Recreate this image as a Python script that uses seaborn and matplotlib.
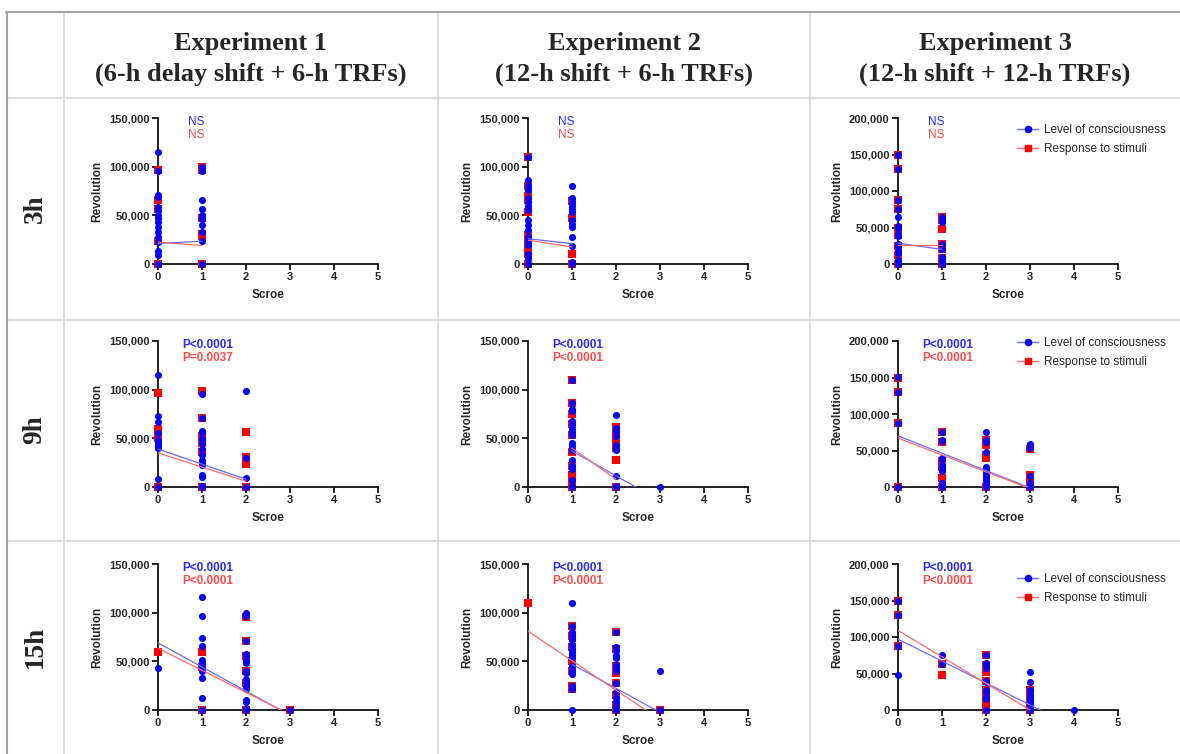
#plot revolution vs score for the three experiments
import matplotlib.pyplot as plt
from matplotlib.lines import Line2D
from matplotlib.ticker import FuncFormatter
import numpy as np
import pandas as pd
import seaborn as sns

times = ['3h', '9h', '15h']
experiments = ['Experiment 1\n(6-h delay shift + 6-h TRFs)',
               'Experiment 2\n(12-h shift + 6-h TRFs)',
               'Experiment 3\n(12-h shift + 12-h TRFs)']
ymax = [150000, 150000, 200000]

# revolution values (x1000) per score, level of consciousness (loc) / response to stimuli (res)
loc_3h_e1 = {0: [115, 96, 71, 69, 59, 55, 50, 47, 43, 38, 33, 28, 23, 13, 9, 0],
             1: [100, 96, 66, 57, 50, 48, 46, 40, 33, 24, 0]}
res_3h_e1 = {0: [97, 66, 56, 24, 0], 1: [100, 97, 47, 31, 29, 0]}
loc_3h_e2 = {0: [110, 86, 80, 76, 68, 64, 60, 55, 45, 40, 35, 28, 24, 20, 10, 6, 0],
             1: [80, 68, 64, 60, 57, 53, 45, 41, 38, 28, 18, 2, 0]}
res_3h_e2 = {0: [110, 80, 70, 66, 53, 30, 24, 18, 10, 0], 1: [65, 47, 10, 0]}
loc_3h_e3 = {0: [150, 130, 87, 75, 64, 52, 50, 41, 38, 28, 25, 18, 15, 5, 2, 0],
             1: [65, 62, 58, 28, 20, 9, 5, 2, 0]}
res_3h_e3 = {0: [150, 130, 87, 75, 50, 40, 25, 12, 0], 1: [65, 60, 48, 28, 20, 8, 0]}

loc_9h_e1 = {0: [115, 73, 67, 55, 48, 45, 42, 40, 8, 0],
             1: [96, 71, 58, 56, 50, 48, 45, 39, 33, 28, 25, 23, 12, 10, 1, 0],
             2: [99, 30, 9, 0]}
res_9h_e1 = {0: [97, 60, 57, 50, 0], 1: [99, 71, 52, 45, 36, 0], 2: [57, 31, 24, 0]}
loc_9h_e2 = {1: [110, 86, 80, 78, 68, 64, 60, 56, 53, 45, 42, 38, 28, 22, 18, 7, 1, 0],
             2: [74, 61, 58, 52, 43, 41, 38, 11, 1, 0], 3: [0]}
res_9h_e2 = {1: [110, 86, 75, 65, 53, 36, 22, 12, 8, 0], 2: [62, 53, 46, 40, 28, 0]}
loc_9h_e3 = {0: [151, 130, 87, 0], 1: [75, 65, 63, 40, 38, 30, 27, 24, 22, 5, 1, 0],
             2: [76, 64, 62, 48, 28, 24, 20, 16, 12, 8, 4, 0], 3: [59, 54, 15, 6, 3, 0]}
res_9h_e3 = {0: [150, 130, 87, 0], 1: [76, 62, 36, 28, 13, 0], 2: [64, 58, 44, 40, 0],
             3: [52, 16, 6, 0]}

loc_15h_e1 = {0: [43], 1: [116, 97, 74, 66, 51, 48, 44, 40, 33, 12, 0],
              2: [100, 97, 71, 58, 55, 50, 48, 40, 38, 32, 28, 24, 22, 10, 8, 1, 0], 3: [0]}
res_15h_e1 = {0: [60], 1: [60, 44, 0], 2: [96, 71, 55, 40, 28, 0], 3: [0]}
loc_15h_e2 = {1: [110, 86, 80, 76, 72, 67, 63, 60, 57, 53, 45, 40, 37, 25, 22, 0],
              2: [80, 65, 62, 56, 53, 46, 43, 40, 28, 19, 12, 8, 3, 0], 3: [40, 0]}
res_15h_e2 = {0: [110], 1: [86, 76, 65, 50, 40, 25, 22], 2: [80, 63, 45, 38, 28, 15, 5, 0],
              3: [0]}
loc_15h_e3 = {0: [150, 130, 87, 48], 1: [75, 63],
              2: [75, 65, 62, 58, 40, 38, 28, 25, 18, 15, 0],
              3: [52, 38, 28, 22, 18, 15, 12, 9, 6, 3, 0], 4: [0]}
res_15h_e3 = {0: [150, 130, 87], 1: [63, 48], 2: [76, 62, 52, 40, 28, 16, 12, 9, 0],
              3: [28, 22, 16, 10, 5, 0]}

loc_data = [[loc_3h_e1, loc_3h_e2, loc_3h_e3],
            [loc_9h_e1, loc_9h_e2, loc_9h_e3],
            [loc_15h_e1, loc_15h_e2, loc_15h_e3]]
res_data = [[res_3h_e1, res_3h_e2, res_3h_e3],
            [res_9h_e1, res_9h_e2, res_9h_e3],
            [res_15h_e1, res_15h_e2, res_15h_e3]]

# linear fits: (intercept x1000, slope x1000, x from, x to)
fit_loc = [[(21, 2.5, 0, 1), (26, -5, 0, 1), (28.5, -8.5, 0, 1)],
           [(39, -15.5, 0, 2), (62.5, -25.5, 1, 3), (70, -23.7, 0, 3)],
           [(69, -24.8, 0, 3), (71.7, -24.7, 1, 3), (97, -30, 0, 4)]]
fit_res = [[(22.5, -3.5, 0, 1), (24.5, -7, 0, 1), (26, 0, 0, 1)],
           [(35, -14.5, 0, 2), (72, -32, 1, 2), (67, -23.1, 0, 3)],
           [(63.5, -22.7, 0, 3), (81, -30.3, 0, 3), (109, -36.3, 0, 3)]]

p_loc = [['NS', 'NS', 'NS'],
         ['P<0.0001', 'P<0.0001', 'P<0.0001'],
         ['P<0.0001', 'P<0.0001', 'P<0.0001']]
p_res = [['NS', 'NS', 'NS'],
         ['P=0.0037', 'P<0.0001', 'P<0.0001'],
         ['P<0.0001', 'P<0.0001', 'P<0.0001']]

blue, red = '#0000ff', '#ff0000'
blue_line, red_line = '#6b6bff', '#ff6b6b'
blue_txt, red_txt = '#2a2aff', '#ff4c4c'

sns.set_theme(style='ticks')
plt.rcParams['font.family'] = ['Liberation Sans', 'DejaVu Sans']

rows = []
for i, t in enumerate(times):
    for j in range(3):
        for name, d in [('Level of consciousness', loc_data[i][j]),
                        ('Response to stimuli', res_data[i][j])]:
            for s, vals in d.items():
                for v in vals:
                    rows.append((t, j, name, s, v * 1000))
df = pd.DataFrame(rows, columns=['time', 'exp', 'series', 'score', 'rev'])

W, H = 1180, 754
fig = plt.figure(figsize=(W / 100, H / 100), dpi=100)

# table grid
def hline(y, x0, x1, c, lw=1.5):
    fig.add_artist(Line2D([x0 / W, x1 / W], [1 - y / H, 1 - y / H], color=c, lw=lw))

def vline(x, y0, y1, c, lw=1.5):
    fig.add_artist(Line2D([x / W, x / W], [1 - y0 / H, 1 - y1 / H], color=c, lw=lw))

light, dark = '#dedede', '#a3a3a3'
for y in [98, 320, 541]:
    hline(y, 7, W, light)
for x in [64, 438, 810]:
    vline(x, 12, H, light)
hline(12, 6, W, dark)
vline(7, 12, H, dark)

col_center = [251, 624, 995]
row_center = [209, 430, 647]
for j, e in enumerate(experiments):
    fig.text(col_center[j] / W, 1 - 59 / H, e, ha='center', va='center',
             fontsize=19, fontweight='bold', family='Liberation Serif', linespacing=1.4)
for i, t in enumerate(times):
    fig.text(35 / W, 1 - row_center[i] / H, t, ha='center', va='center', rotation=90,
             fontsize=19.5, fontweight='bold', family='Liberation Serif')

ax_left = [158, 528, 898]
ax_bottom = [264, 487, 710]
aw, ah = 220, 146
fmt = FuncFormatter(lambda v, p: f'{int(v):,}')

for i, t in enumerate(times):
    for j in range(3):
        ax = fig.add_axes([ax_left[j] / W, 1 - ax_bottom[i] / H, aw / W, ah / H])
        sub = df[(df.time == t) & (df.exp == j)]
        sns.scatterplot(data=sub[sub.series == 'Response to stimuli'], x='score', y='rev',
                        marker='s', color=red, s=26, linewidth=0, clip_on=False, zorder=3, ax=ax)
        sns.scatterplot(data=sub[sub.series == 'Level of consciousness'], x='score', y='rev',
                        marker='o', color=blue, s=26, linewidth=0, clip_on=False, zorder=4, ax=ax)
        for fit, c in [(fit_loc[i][j], blue_line), (fit_res[i][j], red_line)]:
            b0, b1, x0, x1 = fit
            xs = np.array([x0, x1])
            ax.plot(xs, (b0 + b1 * xs) * 1000, color=c, lw=0.9, zorder=5)
        ax.set_xlim(0, 5)
        ax.set_ylim(0, ymax[j])
        ax.set_xticks(range(6))
        ax.set_yticks(np.arange(0, ymax[j] + 1, 50000))
        ax.yaxis.set_major_formatter(fmt)
        sns.despine(ax=ax)
        for sp in ['left', 'bottom']:
            ax.spines[sp].set_linewidth(1.3)
            ax.spines[sp].set_color('#111111')
        ax.tick_params(axis='both', length=4, width=1.3, color='#111111', pad=2,
                       labelsize=8)
        for lab in ax.get_xticklabels() + ax.get_yticklabels():
            lab.set_fontweight('bold')
        ax.set_xlabel('Scroe', fontsize=8.5, fontweight='bold', labelpad=5)
        ax.set_ylabel('Revolution', fontsize=8.5, fontweight='bold', labelpad=4)
        ax.patch.set_alpha(0)

        bold = p_loc[i][j] != 'NS'
        xt = 0.11 if bold else 0.135
        ax.text(xt, 0.975, p_loc[i][j], transform=ax.transAxes, color=blue_txt,
                fontsize=8.5, fontweight='bold' if bold else 'normal', va='center')
        ax.text(xt, 0.885, p_res[i][j], transform=ax.transAxes, color=red_txt,
                fontsize=8.5, fontweight='bold' if bold else 'normal', va='center')

        if j == 2:
            handles = [Line2D([0], [0], color=blue_line, lw=1, marker='o', markersize=4.5,
                              markerfacecolor=blue, markeredgecolor=blue),
                       Line2D([0], [0], color=red_line, lw=1, marker='s', markersize=4.5,
                              markerfacecolor=red, markeredgecolor=red)]
            ytop = [0.99, 1.06, 0.97][i]
            ax.legend(handles, ['Level of consciousness', 'Response to stimuli'],
                      loc='upper left', bbox_to_anchor=(0.52, ytop), frameon=False,
                      fontsize=8.5, handlelength=1.8, handletextpad=0.5, labelspacing=0.6,
                      borderaxespad=0)
        elif ax.get_legend() is not None:
            ax.get_legend().remove()

plt.savefig('out.png', dpi=100)
